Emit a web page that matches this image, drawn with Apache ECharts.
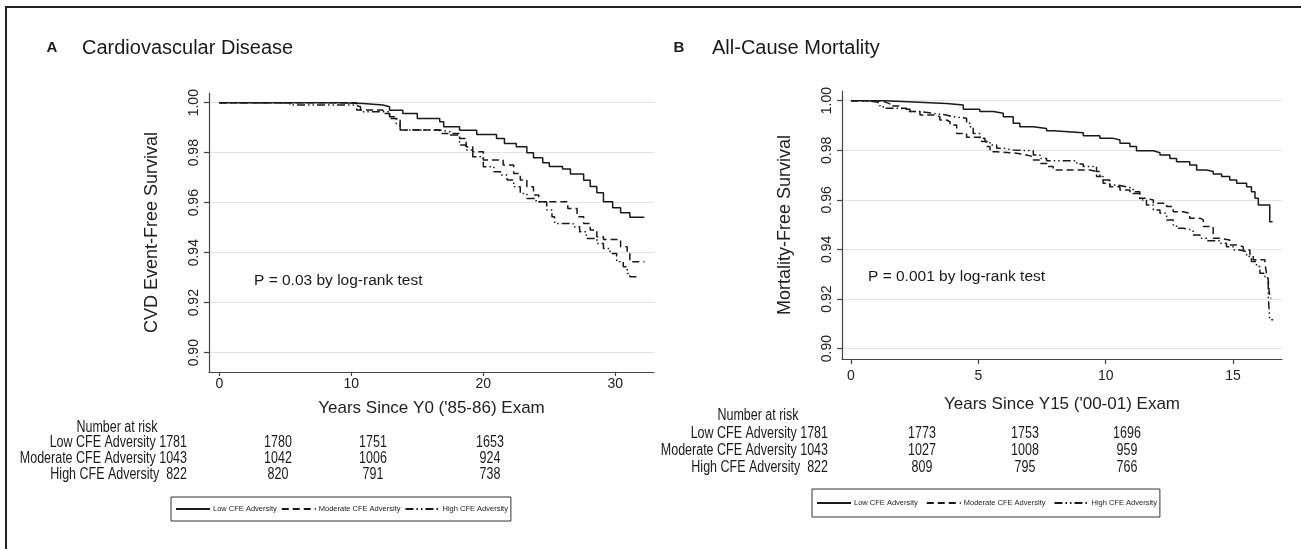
<!DOCTYPE html>
<html><head><meta charset="utf-8">
<script src="https://cdn.jsdelivr.net/npm/echarts@6/dist/echarts.min.js"></script>
<style>html,body{margin:0;padding:0;background:#fff;}#c{width:1301px;height:549px;}</style>
</head><body><div id="c"></div>
<script>
// ---------- data ----------
const groupNames = ['Low CFE Adversity', 'Moderate CFE Adversity', 'High CFE Adversity'];
const panelTitles = ['Cardiovascular Disease', 'All-Cause Mortality'];
const panelLetters = ['A', 'B'];
const yNames = ['CVD Event-Free Survival', 'Mortality-Free Survival'];
const xNames = ["Years Since Y0 ('85-86) Exam", "Years Since Y15 ('00-01) Exam"];
const pTexts = ['P = 0.03 by log-rank test', 'P = 0.001 by log-rank test'];
const yTicks = [0.90, 0.92, 0.94, 0.96, 0.98, 1.00];
const xTicksA = [0, 10, 20, 30];
const xTicksB = [0, 5, 10, 15];

// Panel A: Kaplan-Meier steps (years, survival)
const aLowT = [0, 9.1, 10.9, 12.4, 12.9, 13.9, 15.0, 16.7, 17.0, 18.2, 19.5, 21.0, 21.6, 22.5, 23.3, 23.8, 24.5, 25.0, 26.0, 26.6, 27.6, 28.1, 28.6, 29.1, 29.8, 30.4, 31.1, 32.2];
const aLowS = [1.000, 0.9997, 0.9991, 0.9984, 0.9970, 0.9957, 0.9937, 0.9924, 0.9904, 0.9890, 0.9873, 0.9857, 0.9837, 0.9824, 0.9800, 0.9780, 0.9760, 0.9745, 0.9735, 0.9715, 0.9690, 0.9665, 0.9640, 0.9604, 0.9580, 0.9560, 0.9542, 0.9542];
const aModT = [0, 10.4, 12.4, 12.9, 13.7, 16.7, 18.2, 18.7, 19.2, 20.0, 21.5, 22.3, 22.8, 23.3, 23.8, 24.2, 26.4, 27.1, 27.6, 28.1, 28.6, 29.1, 30.4, 30.9, 31.1, 32.2];
const aModS = [1.000, 0.9971, 0.9957, 0.9937, 0.9891, 0.9877, 0.9857, 0.9824, 0.9804, 0.9771, 0.9751, 0.9717, 0.9691, 0.9664, 0.9631, 0.9604, 0.9577, 0.9544, 0.9517, 0.9491, 0.9464, 0.9453, 0.9424, 0.9397, 0.9364, 0.9364];
const aHighT = [0, 5.35, 10.2, 10.7, 12.9, 13.4, 13.7, 16.7, 17.5, 18.2, 18.7, 19.2, 20.0, 20.8, 21.3, 21.8, 22.3, 22.8, 23.3, 24.0, 24.8, 25.2, 25.4, 26.8, 27.3, 27.8, 28.6, 29.1, 29.6, 30.1, 30.6, 30.9, 31.1, 31.6];
const aHighS = [1.000, 0.9991, 0.9984, 0.9964, 0.9944, 0.9917, 0.9891, 0.9884, 0.9871, 0.9831, 0.9811, 0.9784, 0.9744, 0.9724, 0.9711, 0.9691, 0.9664, 0.9637, 0.9617, 0.9604, 0.9571, 0.9544, 0.9517, 0.9504, 0.9484, 0.9457, 0.9437, 0.9417, 0.9397, 0.9364, 0.9344, 0.9317, 0.9304, 0.9304];

// Panel B
const bLowT = [0, 1.33, 2.45, 3.75, 4.41, 5.06, 5.59, 5.98, 6.37, 6.63, 7.16, 7.68, 7.94, 9.12, 9.77, 10.3, 10.56, 10.95, 11.21, 11.87, 12.13, 12.52, 12.78, 13.3, 13.57, 13.96, 14.22, 14.55, 14.87, 15.14, 15.53, 15.72, 15.86, 15.99, 16.44, 16.55];
const bLowS = [1.000, 0.9995, 0.9989, 0.9983, 0.9965, 0.9956, 0.9949, 0.9935, 0.9909, 0.9895, 0.9888, 0.9879, 0.9871, 0.9858, 0.9848, 0.9841, 0.9828, 0.9815, 0.9798, 0.9790, 0.9781, 0.9767, 0.9754, 0.9741, 0.9720, 0.9714, 0.9704, 0.9694, 0.9680, 0.9667, 0.9653, 0.9633, 0.9606, 0.9579, 0.9512, 0.9512];
const bModT = [0, 1.0, 1.33, 1.53, 1.92, 2.18, 2.71, 3.23, 3.49, 3.75, 3.89, 4.15, 4.54, 5.13, 5.32, 5.46, 5.72, 6.5, 6.89, 7.16, 7.42, 7.68, 7.94, 9.38, 9.64, 9.9, 10.16, 10.56, 10.95, 11.34, 11.6, 11.87, 12.39, 12.65, 13.04, 13.3, 13.7, 13.83, 14.22, 14.48, 14.87, 15.14, 15.4, 15.66, 15.79, 16.25, 16.31, 16.38, 16.44, 16.5];
const bModS = [1.000, 0.9995, 0.9987, 0.9978, 0.9969, 0.9956, 0.9942, 0.9935, 0.9922, 0.9915, 0.9902, 0.9868, 0.9852, 0.9835, 0.9815, 0.9794, 0.9788, 0.9781, 0.9774, 0.9761, 0.9747, 0.9734, 0.9720, 0.9714, 0.9694, 0.9667, 0.9653, 0.9640, 0.9626, 0.9606, 0.9599, 0.9586, 0.9573, 0.9552, 0.9546, 0.9526, 0.9519, 0.9492, 0.9445, 0.9438, 0.9418, 0.9411, 0.9398, 0.9378, 0.9358, 0.9344, 0.9304, 0.9277, 0.9203, 0.9203];
const bHighT = [0, 0.61, 1.0, 1.14, 1.27, 1.92, 2.32, 2.71, 3.23, 3.75, 4.02, 4.54, 4.67, 4.8, 5.06, 5.26, 5.46, 5.72, 5.98, 6.37, 7.16, 7.42, 7.68, 8.86, 9.12, 9.64, 9.77, 9.9, 10.16, 10.43, 10.82, 11.08, 11.34, 11.6, 11.87, 12.13, 12.39, 12.65, 12.78, 13.04, 13.43, 13.7, 13.96, 14.48, 14.74, 15.0, 15.27, 15.53, 15.72, 15.92, 16.05, 16.25, 16.38, 16.44, 16.57];
const bHighS = [1.000, 0.9995, 0.9989, 0.9978, 0.9969, 0.9965, 0.9956, 0.9949, 0.9942, 0.9935, 0.9929, 0.9909, 0.9895, 0.9868, 0.9848, 0.9835, 0.9821, 0.9808, 0.9801, 0.9798, 0.9781, 0.9767, 0.9758, 0.9745, 0.9734, 0.9714, 0.9694, 0.9680, 0.9660, 0.9653, 0.9646, 0.9633, 0.9599, 0.9579, 0.9559, 0.9546, 0.9519, 0.9499, 0.9485, 0.9478, 0.9458, 0.9445, 0.9435, 0.9425, 0.9411, 0.9398, 0.9391, 0.9371, 0.9351, 0.9331, 0.9304, 0.9284, 0.9210, 0.9116, 0.9116];

// Number at risk
const riskBaseline = [1781, 1043, 822];
const riskA = [[1780, 1751, 1653], [1042, 1006, 924], [820, 791, 738]];
const riskB = [[1773, 1753, 1696], [1027, 1008, 959], [809, 795, 766]];

// ---------- build ----------
const FONT = '"Liberation Sans", Arial, Helvetica, sans-serif';
const INK = '#1a1a1a';
const lineTypes = ['solid', [7, 4], [8, 3, 1.5, 3, 1.5, 3]];
const pairs = (T, S) => T.map((t, i) => [t, S[i]]);
const seriesData = [
  [pairs(aLowT, aLowS), pairs(aModT, aModS), pairs(aHighT, aHighS)],
  [pairs(bLowT, bLowS), pairs(bModT, bModS), pairs(bHighT, bHighS)]
];

const series = [];
seriesData.forEach((panel, p) => {
  panel.forEach((d, g) => {
    series.push({
      type: 'line', name: groupNames[g], xAxisIndex: p, yAxisIndex: p,
      data: d, step: 'end', symbol: 'none', silent: true,
      lineStyle: { color: INK, width: 1.5, type: lineTypes[g] },
      itemStyle: { color: INK }
    });
  });
});

const grids = [
  { left: 209, top: 93, width: 445, height: 279 },
  { left: 842, top: 91, width: 440, height: 268 }
];
const xRanges = [[-0.78, 32.93], [-0.35, 16.92]];
const yRanges = [[0.89228, 1.00388], [0.8958, 1.0039]];
const xTickSets = [xTicksA, xTicksB];
const xLabelMargin = [5, 10];
const xTickLen = [4, 5];
const xNameGap = [28, 37];

const xAxes = [0, 1].map(p => ({
  gridIndex: p, type: 'value', min: xRanges[p][0], max: xRanges[p][1],
  axisLine: { show: true, onZero: false, lineStyle: { color: '#444', width: 1.2 } },
  axisTick: { show: true, length: xTickLen[p], customValues: xTickSets[p], lineStyle: { color: '#444', width: 1.2 } },
  axisLabel: { customValues: xTickSets[p], fontSize: 14, color: '#222', fontFamily: FONT, margin: xLabelMargin[p] },
  splitLine: { show: false },
  name: xNames[p], nameLocation: 'middle', nameGap: xNameGap[p],
  nameTextStyle: { fontSize: 17, color: '#222', fontFamily: FONT }
}));
const yAxes = [0, 1].map(p => ({
  gridIndex: p, type: 'value', min: yRanges[p][0], max: yRanges[p][1],
  axisLine: { show: true, onZero: false, lineStyle: { color: '#444', width: 1.2 } },
  axisTick: { show: true, length: 5, customValues: yTicks, lineStyle: { color: '#444', width: 1.2 } },
  axisLabel: { customValues: yTicks, rotate: 90, fontSize: 14, color: '#222', fontFamily: FONT, margin: 8,
    formatter: v => v.toFixed(2) },
  splitLine: { show: true, lineStyle: { color: '#e4e4e4', width: 1.2 } },
  name: yNames[p], nameLocation: 'middle', nameRotate: 90, nameGap: 48,
  nameTextStyle: { fontSize: 18, color: '#222', fontFamily: FONT }
}));

// graphic texts
const graphic = [];
graphic.push({ type: 'rect', shape: { x: 6, y: 7, width: 1310, height: 600 }, style: { fill: 'none', stroke: '#222', lineWidth: 2 }, silent: true });
const titlePos = [{ lx: 52, tx: 82, y: 48 }, { lx: 679, tx: 712, y: 48 }];
const txt = (text, x, y, size, align, weight, sx) => ({
  type: 'text', silent: true, x, y, scaleX: sx || 1,
  style: { text, x: 0, y: 0, fill: '#1a1a1a', font: (weight || 'normal') + ' ' + size + 'px ' + FONT, textAlign: align || 'left', textVerticalAlign: 'middle' }
});
[0, 1].forEach(p => {
  graphic.push(txt(panelLetters[p], titlePos[p].lx, titlePos[p].y, 15, 'center', 'bold'));
  graphic.push(txt(panelTitles[p], titlePos[p].tx, titlePos[p].y, 20, 'left'));
});
graphic.push(txt(pTexts[0], 254, 281, 15.5, 'left'));
graphic.push(txt(pTexts[1], 868, 277, 15.5, 'left'));

const RS = 0.78; // narrow face of the risk table
const riskLayout = [
  { headX: 117, headY: 428, labelX: 187, rowsY: [443, 459, 475], colX: [278, 373, 490], vals: riskA },
  { headX: 758, headY: 416, labelX: 828, rowsY: [434, 451, 468], colX: [922, 1025, 1127], vals: riskB }
];
riskLayout.forEach(L => {
  graphic.push(txt('Number at risk', L.headX, L.headY, 16, 'center', null, RS));
  groupNames.forEach((g, i) => {
    const n = String(riskBaseline[i]);
    graphic.push(txt(g + ' ' + (n.length < 4 ? ' ' + n : n), L.labelX, L.rowsY[i], 16, 'right', null, RS));
    L.vals[i].forEach((v, j) => graphic.push(txt(String(v), L.colX[j], L.rowsY[i], 16, 'center', null, RS)));
  });
});

const legendBase = {
  data: groupNames, orient: 'horizontal', itemWidth: 34, itemHeight: 8, itemGap: 4,
  borderColor: '#333', borderWidth: 1, borderRadius: 0, padding: [8, 3, 8, 4],
  itemStyle: { opacity: 0 },
  textStyle: { fontSize: 7.5, color: '#222', fontFamily: FONT, padding: [0, 0, 0, -2] },
  selectedMode: false
};
const legends = [
  Object.assign({}, legendBase, { left: 171, top: 497 }),
  Object.assign({}, legendBase, { left: 812, top: 489, itemGap: 8, padding: [10, 3, 10, 4] })
];

const chart = echarts.init(document.getElementById('c'), null, { renderer: 'canvas' });
chart.setOption({
  animation: false,
  backgroundColor: '#fff',
  textStyle: { fontFamily: FONT },
  grid: grids,
  xAxis: xAxes,
  yAxis: yAxes,
  legend: legends,
  series,
  graphic
});
</script></body></html>
